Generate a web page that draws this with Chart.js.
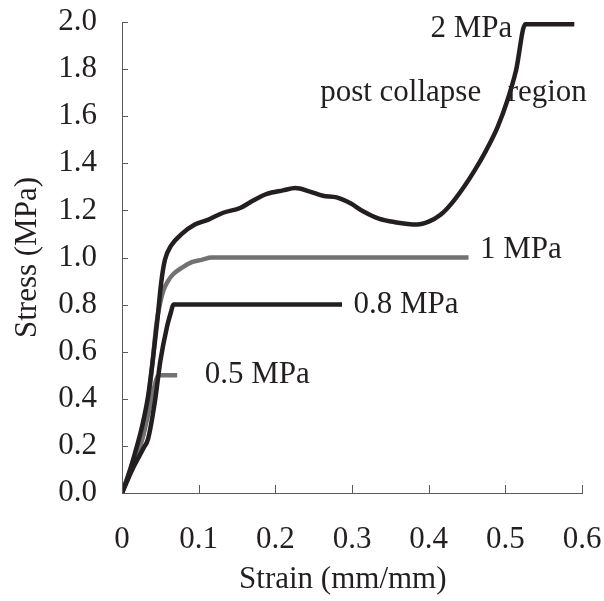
<!DOCTYPE html>
<html>
<head>
<meta charset="utf-8">
<title>Stress–strain curves</title>
<script src="https://cdn.jsdelivr.net/npm/chart.js@4.4.1/dist/chart.umd.min.js"></script>
<style>
  html, body { margin: 0; padding: 0; background: #ffffff; }
  #wrap { width: 604px; height: 601px; }
</style>
</head>
<body>
<div id="wrap"><canvas id="c" width="604" height="601"></canvas></div>
<script>
// Strain (mm/mm) / stress (MPa) pairs for each loading level
const strain2MPa = [0, 0.008, 0.017, 0.026, 0.034, 0.040, 0.046, 0.051, 0.056, 0.064, 0.078, 0.095, 0.112, 0.132, 0.154, 0.170, 0.189, 0.210, 0.226, 0.245, 0.262, 0.280, 0.298, 0.315, 0.335, 0.356, 0.385, 0.400, 0.415, 0.430, 0.445, 0.460, 0.475, 0.490, 0.502, 0.514, 0.526, 0.590];
const stress2MPa = [0, 0.07, 0.17, 0.28, 0.41, 0.56, 0.73, 0.89, 0.99, 1.05, 1.10, 1.14, 1.16, 1.19, 1.21, 1.24, 1.27, 1.285, 1.295, 1.28, 1.262, 1.255, 1.23, 1.195, 1.165, 1.15, 1.14, 1.152, 1.18, 1.23, 1.295, 1.37, 1.455, 1.555, 1.66, 1.795, 1.99, 1.99];

const strain1MPa = [0, 0.015, 0.028, 0.034, 0.040, 0.045, 0.050, 0.054, 0.060, 0.067, 0.080, 0.091, 0.104, 0.117, 0.452];
const stress1MPa = [0, 0.14, 0.25, 0.39, 0.56, 0.72, 0.81, 0.86, 0.90, 0.93, 0.96, 0.98, 0.99, 1.0, 1.0];

const strain08MPa = [0, 0.015, 0.028, 0.034, 0.043, 0.050, 0.059, 0.064, 0.067, 0.287];
const stress08MPa = [0, 0.11, 0.19, 0.23, 0.39, 0.56, 0.71, 0.77, 0.80, 0.80];

const strain05MPa = [0, 0.015, 0.028, 0.036, 0.042, 0.048, 0.072];
const stress05MPa = [0, 0.13, 0.25, 0.36, 0.45, 0.50, 0.50];

// Axis ticks
const xTickValues = [0, 0.1, 0.2, 0.3, 0.4, 0.5, 0.6];
const xTickLabels = ['0', '0.1', '0.2', '0.3', '0.4', '0.5', '0.6'];
const yTickValues = [0, 0.2, 0.4, 0.6, 0.8, 1.0, 1.2, 1.4, 1.6, 1.8, 2.0];
const yTickLabels = ['0.0', '0.2', '0.4', '0.6', '0.8', '1.0', '1.2', '1.4', '1.6', '1.8', '2.0'];

// Curve labels: text, anchor strain, anchor stress (baseline), alignment
const labelTexts = ['2 MPa', 'post collapse', 'region', '1 MPa', '0.8 MPa', '0.5 MPa'];
const labelStrain = [0.509, 0.2585, 0.503, 0.467, 0.302, 0.108];
const labelStress = [1.936, 1.665, 1.665, 0.998, 0.764, 0.467];
const labelAlign = ['right', 'left', 'left', 'left', 'left', 'left'];

const xTitle = 'Strain (mm/mm)';
const yTitle = 'Stress (MPa)';

const INK = '#231f20';
const GREY = '#727272';
const AXIS = '#5a5a5a';
const FONT = '"Liberation Serif", "Times New Roman", serif';
const FONT_SIZE = 31;

function pairs(xs, ys) {
  return xs.map((x, i) => ({ x: x, y: ys[i] }));
}

function labelFor(values, labels, v) {
  let best = 0;
  values.forEach((t, i) => { if (Math.abs(t - v) < Math.abs(values[best] - v)) best = i; });
  return labels[best];
}

// Inward tick marks, curve labels and the x-axis title
const decorations = {
  id: 'decorations',
  afterDatasetsDraw(chart) {
    const ctx = chart.ctx;
    const xs = chart.scales.x, ys = chart.scales.y;
    const area = chart.chartArea;
    ctx.save();
    ctx.strokeStyle = AXIS;
    ctx.lineWidth = 1;
    xTickValues.forEach(v => {
      const px = Math.round(xs.getPixelForValue(v)) + 0.5;
      ctx.beginPath();
      ctx.moveTo(px, area.bottom);
      ctx.lineTo(px, area.bottom - 8);
      ctx.stroke();
    });
    yTickValues.forEach(v => {
      const py = Math.round(ys.getPixelForValue(v)) + 0.5;
      ctx.beginPath();
      ctx.moveTo(area.left, py);
      ctx.lineTo(area.left + 6, py);
      ctx.stroke();
    });

    ctx.fillStyle = INK;
    ctx.font = FONT_SIZE + 'px ' + FONT;
    ctx.textBaseline = 'alphabetic';
    labelTexts.forEach((t, i) => {
      ctx.textAlign = labelAlign[i];
      ctx.fillText(t, xs.getPixelForValue(labelStrain[i]), ys.getPixelForValue(labelStress[i]));
    });

    ctx.textAlign = 'center';
    ctx.textBaseline = 'middle';
    ctx.fillText(xTitle, xs.getPixelForValue(0.288), 580);
    ctx.restore();
  }
};

const lineStyle = (color, order) => ({
  borderColor: color,
  backgroundColor: color,
  borderWidth: 4.5,
  pointRadius: 0,
  fill: false,
  showLine: true,
  cubicInterpolationMode: 'monotone',
  borderCapStyle: 'butt',
  borderJoinStyle: 'round',
  order: order
});

new Chart(document.getElementById('c'), {
  type: 'scatter',
  data: {
    datasets: [
      Object.assign({ label: '2 MPa', data: pairs(strain2MPa, stress2MPa) }, lineStyle(INK, 0)),
      Object.assign({ label: '0.8 MPa', data: pairs(strain08MPa, stress08MPa) }, lineStyle(INK, 1)),
      Object.assign({ label: '1 MPa', data: pairs(strain1MPa, stress1MPa) }, lineStyle(GREY, 2)),
      Object.assign({ label: '0.5 MPa', data: pairs(strain05MPa, stress05MPa) }, lineStyle(GREY, 3))
    ]
  },
  options: {
    responsive: false,
    animation: false,
    devicePixelRatio: 1,
    layout: { padding: { top: 22, right: 22, left: 0, bottom: 0 } },
    plugins: { legend: { display: false }, tooltip: { enabled: false } },
    scales: {
      x: {
        type: 'linear',
        min: 0, max: 0.6,
        afterFit(scale) {
          scale.height = 108;
          scale.paddingLeft = 0;
          scale.paddingRight = 0;
        },
        afterBuildTicks(scale) { scale.ticks = xTickValues.map(v => ({ value: v })); },
        border: { display: true, color: AXIS, width: 1 },
        grid: { display: true, drawOnChartArea: false, drawTicks: false },
        ticks: {
          padding: 28,
          color: INK,
          font: { family: FONT, size: FONT_SIZE },
          maxRotation: 0,
          autoSkip: false,
          callback: v => labelFor(xTickValues, xTickLabels, v)
        },
        title: { display: false }
      },
      y: {
        type: 'linear',
        min: 0, max: 2.0,
        afterFit(scale) {
          scale.width = 122;
          scale.paddingTop = 0;
          scale.paddingBottom = 0;
        },
        afterBuildTicks(scale) { scale.ticks = yTickValues.map(v => ({ value: v })); },
        border: { display: true, color: AXIS, width: 1 },
        grid: { display: true, drawOnChartArea: false, drawTicks: false },
        ticks: {
          padding: 25,
          color: INK,
          font: { family: FONT, size: FONT_SIZE },
          autoSkip: false,
          callback: v => labelFor(yTickValues, yTickLabels, v)
        },
        title: {
          display: true,
          text: yTitle,
          color: INK,
          font: { family: FONT, size: FONT_SIZE },
          padding: { top: 9, bottom: 0 }
        }
      }
    }
  },
  plugins: [decorations]
});
</script>
</body>
</html>
